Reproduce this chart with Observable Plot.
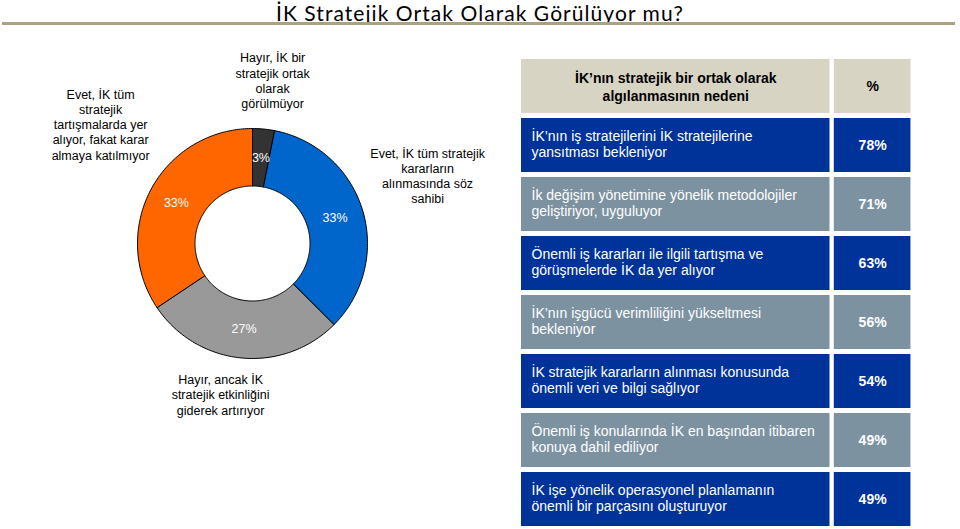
<!DOCTYPE html>
<html><head><meta charset="utf-8">
<script src="https://cdn.jsdelivr.net/npm/d3@7"></script>
<script src="https://cdn.jsdelivr.net/npm/@observablehq/plot@0.6"></script>
<style>
body{margin:0;background:#fff;}
#wrap{position:relative;width:960px;height:529px;overflow:hidden;background:#fff;font-family:"Liberation Sans",Arial,sans-serif;}
#title{position:absolute;left:0;top:0;overflow:visible;}
#rule{position:absolute;left:2px;top:22px;width:953px;height:3px;background:#aaa383;}
#pie{position:absolute;left:0;top:0;}
#table{position:absolute;left:500px;top:0;}
</style></head><body>
<div id="wrap">
  <svg id="title" width="960" height="30"><text id="titleText" x="480" y="20.5" text-anchor="middle" font-family="Lato, 'Open Sans', sans-serif" font-size="21" fill="#000">İK Stratejik Ortak Olarak Görülüyor mu?</text></svg>
  <div id="rule"></div>
  <div id="pie"></div>
  <div id="table"></div>
</div>
<script>
// ---------- DATA ----------
const sliceKeys = ["hayirDegil", "evetSoz", "hayirArtiyor", "evetTartisma"];
const sliceValues = [3, 33, 27, 33];
const sliceLabels = [
  "Hayır, İK bir\nstratejik ortak\nolarak\ngörülmüyor",
  "Evet, İK tüm stratejik\nkararların\nalınmasında söz\nsahibi",
  "Hayır, ancak İK\nstratejik etkinliğini\ngiderek artırıyor",
  "Evet, İK tüm\nstratejik\ntartışmalarda yer\nalıyor, fakat karar\nalmaya katılmıyor"
];
const tableHeader = ["İK’nın stratejik bir ortak olarak\nalgılanmasının nedeni", "%"];
const reasons = [
  "İK’nın iş stratejilerini İK stratejilerine\nyansıtması bekleniyor",
  "İk değişim yönetimine yönelik metodolojiler\ngeliştiriyor, uyguluyor",
  "Önemli iş kararları ile ilgili tartışma ve\ngörüşmelerde İK da yer alıyor",
  "İK’nın işgücü verimliliğini yükseltmesi\nbekleniyor",
  "İK stratejik kararların alınması konusunda\nönemli veri ve bilgi sağlıyor",
  "Önemli iş konularında İK en başından itibaren\nkonuya dahil ediliyor",
  "İK işe yönelik operasyonel planlamanın\nönemli bir parçasını oluşturuyor"
];
const reasonPct = [78, 71, 63, 56, 54, 49, 49];

// ---------- STYLE / LAYOUT ----------
const sliceColors = ["#333333", "#0066cc", "#999999", "#ff6600"];
const FONT = "'Liberation Sans', Arial, sans-serif";
const PX = 115;            // pixels per unit radius
const CX = 252, CY = 243;  // donut centre in the left svg
const PW = 520, PH = 529;
const INNER = 0.5;
const labelLayout = [      // [radius, angle tweak in degrees]
  [1.43, 1.4], [1.633, -4.3], [1.342, 6.3], [1.679, 10]
];

// fit title width with letter spacing
(function(){
  const t = document.getElementById("titleText");
  const w = t.getComputedTextLength();
  const n = t.textContent.length;
  if (w > 0) t.setAttribute("letter-spacing", ((408 - w) / n).toFixed(2));
})();

// ---------- DONUT ----------
const sliceData = sliceKeys.map((k, i) => ({key: k, value: sliceValues[i], label: sliceLabels[i], i}));
const arcs = d3.pie().sort(null).value(d => d.value)(sliceData);
const polar = (r, a) => ({x: r * Math.sin(a), y: r * Math.cos(a)});
const poly = [];
for (const a of arcs) {
  const n = Math.max(2, Math.ceil((a.endAngle - a.startAngle) / (Math.PI / 180)));
  for (let j = 0; j <= n; j++) {
    const ang = a.startAngle + (a.endAngle - a.startAngle) * j / n;
    poly.push({key: a.data.key, ...polar(1, ang)});
  }
  for (let j = n; j >= 0; j--) {
    const ang = a.startAngle + (a.endAngle - a.startAngle) * j / n;
    poly.push({key: a.data.key, ...polar(INNER, ang)});
  }
}
const centroids = arcs.map(a => ({text: a.data.value + "%", ...polar((1 + INNER) / 2, (a.startAngle + a.endAngle) / 2)}));
const outer = arcs.map((a, i) => {
  const [r, tw] = labelLayout[i];
  return {text: a.data.label, ...polar(r, (a.startAngle + a.endAngle) / 2 + tw * Math.PI / 180)};
});

const pie = Plot.plot({
  width: PW, height: PH, margin: 0,
  x: {domain: [-CX / PX, (PW - CX) / PX], axis: null},
  y: {domain: [-(PH - CY) / PX, CY / PX], axis: null},
  color: {domain: sliceKeys, range: sliceColors},
  style: {background: "transparent", fontFamily: FONT},
  marks: [
    Plot.line(poly, {x: "x", y: "y", z: "key", fill: "key", stroke: "#000", strokeWidth: 1, curve: "linear-closed"}),
    Plot.text(centroids, {x: "x", y: "y", text: "text", fill: "#fff", fontSize: 12.5}),
    Plot.text(outer, {x: "x", y: "y", text: "text", fill: "#000", fontSize: 12.5, lineHeight: 1.22, lineAnchor: "middle"})
  ]
});
document.getElementById("pie").appendChild(pie);

// ---------- TABLE ----------
const rowKeys = ["h", ...reasons.map((_, i) => "r" + i)];
const colText = [0, 0.789], colPct = [0.80, 0.996];
const rowFill = (i) => i < 0 ? "header" : (i % 2 === 0 ? "blue" : "gray");
const cells = [];
rowKeys.forEach((k, idx) => {
  const kind = rowFill(idx - 1);
  cells.push({row: k, x1: colText[0], x2: colText[1], kind});
  cells.push({row: k, x1: colPct[0], x2: colPct[1], kind});
});
const rowsData = reasons.map((t, i) => ({row: "r" + i, text: t, pct: reasonPct[i] + "%"}));
const headData = [{row: "h", text: tableHeader[0], pct: tableHeader[1]}];

const table = Plot.plot({
  width: 460, height: 529,
  marginLeft: 21, marginRight: 48, marginTop: 58, marginBottom: 1,
  x: {domain: [0, 1], axis: null},
  y: {type: "band", domain: rowKeys, paddingInner: 0.08, paddingOuter: 0, axis: null},
  color: {domain: ["header", "blue", "gray"], range: ["#d8d4c4", "#003399", "#7d92a1"]},
  style: {background: "transparent", fontFamily: FONT},
  marks: [
    Plot.barX(cells, {x1: "x1", x2: "x2", y: "row", fill: "kind"}),
    Plot.text(headData, {x: (colText[0] + colText[1]) / 2, y: "row", text: "text", fill: "#000", fontWeight: "bold", fontSize: 14, lineHeight: 1.25, lineAnchor: "middle"}),
    Plot.text(headData, {x: (colPct[0] + colPct[1]) / 2, y: "row", text: "pct", fill: "#000", fontWeight: "bold", fontSize: 14}),
    Plot.text(rowsData, {x: colText[0], dx: 10, dy: -2, y: "row", text: "text", fill: "#fff", fontSize: 14, lineHeight: 1.19, lineAnchor: "middle", textAnchor: "start"}),
    Plot.text(rowsData, {x: (colPct[0] + colPct[1]) / 2, y: "row", text: "pct", fill: "#fff", fontWeight: "bold", fontSize: 14})
  ]
});
document.getElementById("table").appendChild(table);
</script>
</body></html>
